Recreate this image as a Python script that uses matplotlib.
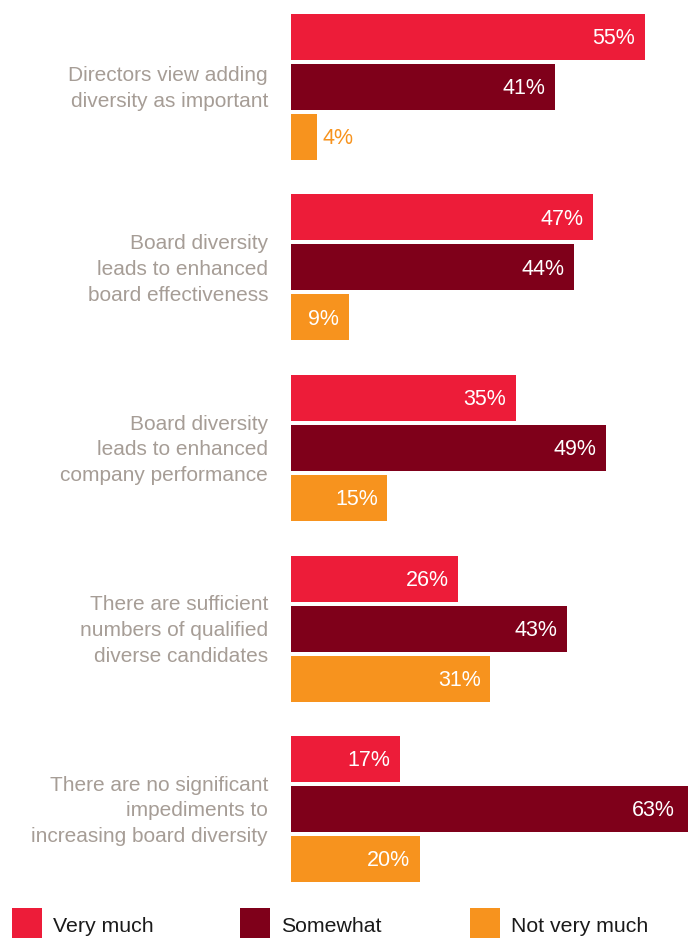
import matplotlib
matplotlib.use("Agg")
import matplotlib.pyplot as plt
from matplotlib.patches import Rectangle
import numpy as np

categories = [
    "Directors view adding\ndiversity as important",
    "Board diversity\nleads to enhanced\nboard effectiveness",
    "Board diversity\nleads to enhanced\ncompany performance",
    "There are sufficient\nnumbers of qualified\ndiverse candidates",
    "There are no significant\nimpediments to\nincreasing board diversity",
]
series_names = ["Very much", "Somewhat", "Not very much"]
very_much = [55, 47, 35, 26, 17]
somewhat = [41, 44, 49, 43, 63]
not_very_much = [4, 9, 15, 31, 20]
series_values = [very_much, somewhat, not_very_much]
colors = ["#ED1C39", "#7F001A", "#F7931E"]
label_color = "#A69D96"

plt.rcParams["font.family"] = ["Liberation Sans", "DejaVu Sans"]

W, H = 688, 938
fig = plt.figure(figsize=(W / 100, H / 100), dpi=100)

group_pitch = 3.61
bar_h = 0.92
n_groups = len(categories)
y_bottom = (n_groups - 1) * group_pitch + 2 + bar_h
top_px = 14
bottom_px = top_px + y_bottom * 50
ax = fig.add_axes([291 / W, 1 - bottom_px / H, 1 - 291 / W, (bottom_px - top_px) / H])
xmax = (W - 291) / 6.43
ax.set_xlim(0, xmax)
ax.set_ylim(y_bottom, 0)

for j, (vals, col) in enumerate(zip(series_values, colors)):
    ys = np.arange(n_groups) * group_pitch + j + bar_h / 2
    ax.barh(ys, vals, height=bar_h, color=col, linewidth=0)
    for y, v in zip(ys, vals):
        if v >= 8:
            xe = min(v, xmax - 0.6)
            ax.annotate(f"{v}%", (xe, y), xytext=(-7, -1.2), textcoords="offset points",
                        ha="right", va="center", color="white", fontsize=15.5)
        else:
            ax.annotate(f"{v}%", (v, y), xytext=(4.3, -1.2), textcoords="offset points",
                        ha="left", va="center", color=col, fontsize=15.5)

for g, cat in enumerate(categories):
    yc = g * group_pitch + 1 + bar_h / 2
    ax.annotate(cat, (0, yc), xytext=(-16.5, -1.4), textcoords="offset points",
                ha="right", va="center", color=label_color, fontsize=15,
                linespacing=1.46, annotation_clip=False)

ax.axis("off")

# legend
leg_x = [12, 240, 470]
for x, name, col in zip(leg_x, series_names, colors):
    fig.patches.append(Rectangle((x / W, 1 - 938 / H), 30 / W, 30 / H,
                                 transform=fig.transFigure, color=col, linewidth=0))
    fig.text((x + 41) / W, 1 - 926 / H, name, ha="left", va="center",
             fontsize=15.3, color="#1A1A1A")

fig.savefig("out.png", dpi=100)
